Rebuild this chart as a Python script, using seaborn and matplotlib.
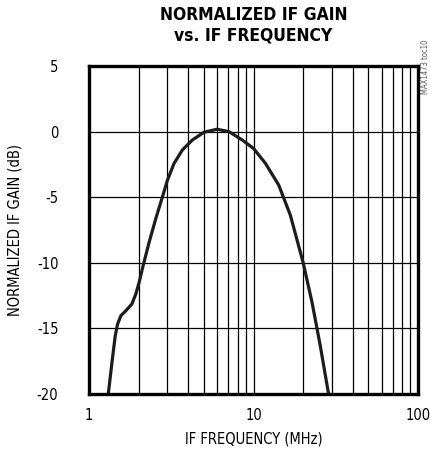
import matplotlib
matplotlib.use("Agg")
import matplotlib.pyplot as plt
from matplotlib import font_manager
import seaborn as sns
import pandas as pd

# IF gain response
freq_mhz = [1.31, 1.379, 1.444, 1.492, 1.563, 1.676, 1.822, 1.927, 2.018, 2.135,
            2.322, 2.547, 2.796, 2.998, 3.29, 3.696, 4.25, 5.0, 6.0, 7.09, 8.54,
            10.0, 11.82, 14.24, 16.76, 20.0, 22.68, 25.47, 28.6]
gain_db = [-20.0, -17.6, -15.56, -14.67, -14.03, -13.65, -13.14, -12.37, -11.48,
           -10.2, -8.42, -6.63, -4.97, -3.7, -2.42, -1.4, -0.64, -0.05, 0.18, 0.0,
           -0.64, -1.28, -2.42, -4.08, -6.38, -9.95, -13.0, -16.33, -20.0]

x_ticks = [1, 10, 100]
x_tick_labels = ["1", "10", "100"]
y_ticks = [-20, -15, -10, -5, 0, 5]
y_tick_labels = ["-20", "-15", "-10", "-5", "0", "5"]
x_minor = [2, 3, 4, 5, 6, 7, 8, 9, 20, 30, 40, 50, 60, 70, 80, 90]

sns.set_style("white")

names = {f.name for f in font_manager.fontManager.ttflist}
if "Liberation Sans Narrow" in names:
    family = ["Liberation Sans Narrow", "DejaVu Sans"]
    stretch = "normal"
else:
    family = ["DejaVu Sans"]
    stretch = "condensed"
plt.rcParams["font.family"] = family
plt.rcParams["axes.unicode_minus"] = False
plt.rcParams["text.color"] = "black"
plt.rcParams["axes.labelcolor"] = "black"
plt.rcParams["xtick.color"] = "black"
plt.rcParams["ytick.color"] = "black"

W, H = 430, 457
fig = plt.figure(figsize=(W / 100, H / 100), dpi=100)
left, right, top, bottom = 89, 418, 66, 394
ax = fig.add_axes([left / W, 1 - bottom / H, (right - left) / W, (bottom - top) / H])

df = pd.DataFrame({"freq": freq_mhz, "gain": gain_db})
sns.lineplot(data=df, x="freq", y="gain", ax=ax, color="#1c1c1c",
             linewidth=2.3, sort=True, zorder=3)

ax.set_xscale("log")
ax.set_xlim(1, 100)
ax.set_ylim(-20, 5)
ax.set_xticks(x_ticks)
ax.set_xticklabels(x_tick_labels)
ax.set_xticks(x_minor, minor=True)
ax.set_xticklabels([], minor=True)
ax.set_yticks(y_ticks)
ax.set_yticklabels(y_tick_labels)
ax.grid(True, which="both", color="black", linewidth=0.9)
ax.tick_params(which="both", length=0)
ax.tick_params(axis="y", pad=22, labelsize=10.5)
ax.tick_params(axis="x", pad=10, labelsize=10.5)
for s in ax.spines.values():
    s.set_linewidth(2.4)
    s.set_color("black")
    s.set_zorder(4)

ax.set_xlabel("IF FREQUENCY (MHz)", fontsize=10.5, labelpad=6, fontstretch=stretch)
ax.set_ylabel("NORMALIZED IF GAIN (dB)", fontsize=10.5, labelpad=10, fontstretch=stretch)
for lbl in ax.get_xticklabels() + ax.get_yticklabels():
    lbl.set_fontstretch(stretch)

fig.text((left + right) / 2 / W, 1 - 6 / H, "NORMALIZED IF GAIN\nvs. IF FREQUENCY",
         ha="center", va="top", fontsize=12.5, fontweight="bold",
         linespacing=1.15, fontstretch=stretch)
fig.text(425 / W, 1 - 40 / H, "MAX1473 toc10", rotation=90, ha="center", va="top",
         fontsize=5.5, color="#555555", fontstretch=stretch)

fig.savefig("out.png", dpi=100)
